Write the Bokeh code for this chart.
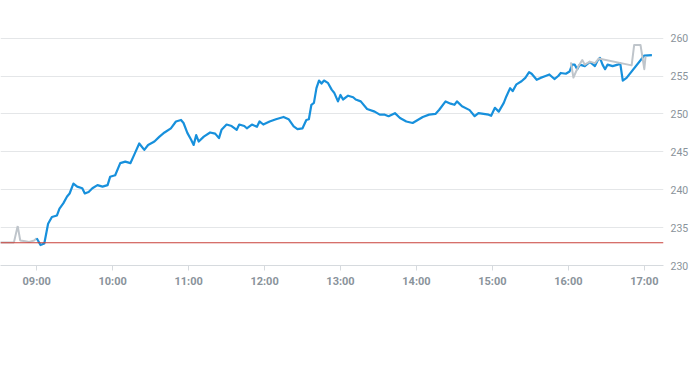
from bokeh.plotting import figure
from bokeh.models import Range1d, FixedTicker, Span, ColumnDataSource
from bokeh.embed import file_html
from bokeh.resources import INLINE

# ---- data ----
reg_times = ["09:00", "09:03", "09:06", "09:09", "09:12", "09:16", "09:18", "09:21", "09:24", "09:26",
             "09:29", "09:32", "09:36", "09:38", "09:41", "09:44", "09:48", "09:52", "09:56", "09:58",
             "10:02", "10:06", "10:10", "10:14", "10:17", "10:21", "10:25", "10:28", "10:33", "10:37",
             "10:41", "10:46", "10:50", "10:54", "10:56", "10:59", "11:02", "11:04", "11:06", "11:08",
             "11:12", "11:17", "11:21", "11:24", "11:26", "11:30", "11:34", "11:38", "11:40", "11:44",
             "11:46", "11:50", "11:54", "11:56", "11:59", "12:04", "12:09", "12:15", "12:19", "12:23",
             "12:26", "12:30", "12:33", "12:35", "12:37", "12:39", "12:41", "12:43", "12:45", "12:47",
             "12:50", "12:53", "12:55", "12:58", "13:00", "13:02", "13:06", "13:10", "13:12", "13:16",
             "13:21", "13:27", "13:31", "13:35", "13:38", "13:43", "13:47", "13:52", "13:57", "14:01",
             "14:05", "14:10", "14:15", "14:18", "14:23", "14:27", "14:30", "14:32", "14:36", "14:42",
             "14:46", "14:49", "14:53", "14:57", "14:59", "15:02", "15:05", "15:09", "15:11", "15:14",
             "15:16", "15:19", "15:23", "15:26", "15:29", "15:31", "15:35", "15:38", "15:42", "15:45",
             "15:49", "15:52", "15:54", "15:58", "16:01", "16:03", "16:05", "16:07", "16:09", "16:13",
             "16:17", "16:21", "16:23", "16:25", "16:27", "16:29", "16:31", "16:35", "16:39", "16:41",
             "16:43", "16:46", "17:00", "17:06"]
reg_prices = [233.6, 232.7, 232.9, 235.5, 236.4, 236.6, 237.5, 238.2, 239.1, 239.5,
              240.8, 240.4, 240.2, 239.5, 239.7, 240.2, 240.6, 240.4, 240.6, 241.7,
              241.9, 243.5, 243.7, 243.5, 244.6, 246.1, 245.25, 245.9, 246.35, 247.0,
              247.55, 248.1, 249.0, 249.2, 248.8, 247.5, 246.6, 245.9, 247.2, 246.35,
              247.0, 247.55, 247.4, 246.8, 247.9, 248.6, 248.4, 247.9, 248.6, 248.4,
              248.1, 248.6, 248.3, 249.0, 248.6, 249.0, 249.3, 249.6, 249.3, 248.35,
              248.0, 248.1, 249.2, 249.3, 251.2, 251.45, 253.4, 254.4, 254.0, 254.4,
              254.1, 253.2, 252.8, 251.65, 252.5, 251.9, 252.4, 252.2, 251.9, 251.65,
              250.65, 250.3, 249.9, 249.9, 249.7, 250.1, 249.45, 249.0, 248.8, 249.2,
              249.6, 249.9, 250.0, 250.55, 251.65, 251.35, 251.2, 251.65, 251.0, 250.5,
              249.7, 250.1, 250.0, 249.9, 249.75, 250.8, 250.3, 251.45, 252.3, 253.4,
              253.0, 253.9, 254.3, 254.75, 255.5, 255.3, 254.5, 254.75, 255.0, 255.2,
              254.6, 255.0, 255.4, 255.3, 255.6, 256.5, 256.5, 255.9, 256.5, 256.3,
              256.85, 256.3, 257.0, 257.4, 256.5, 255.9, 256.5, 256.3, 256.5, 256.65,
              254.4, 254.75, 257.7, 257.75]

pre_times = ["08:30", "08:42", "08:45", "08:47", "08:51", "08:54", "08:58", "09:00"]
pre_prices = [233.05, 233.05, 235.2, 233.3, 233.2, 233.1, 233.3, 233.6]

post_times = ["16:02", "16:04", "16:08", "16:11", "16:13", "16:17", "16:21", "16:24",
              "16:50", "16:52", "16:57", "17:00", "17:01"]
post_prices = [256.8, 254.8, 256.3, 257.1, 256.5, 256.9, 256.7, 257.3,
               256.4, 259.1, 259.1, 255.9, 257.6]

prev_close = 233.0
y_ticks = [230, 235, 240, 245, 250, 255, 260]
x_tick_labels = ["09:00", "10:00", "11:00", "12:00", "13:00", "14:00", "15:00", "16:00", "17:00"]


def to_min(s):
    h, m = s.split(":")
    return int(h) * 60 + int(m)


x_ticks = [to_min(t) for t in x_tick_labels]

FRAME_W, FRAME_H = 663, 265
PX_PER_MIN = 75.95 / 60
PX_PER_UNIT = 7.58
x0 = to_min("09:00") - 36.2 / PX_PER_MIN
p = figure(
    frame_width=FRAME_W, frame_height=FRAME_H,
    x_range=Range1d(x0, x0 + FRAME_W / PX_PER_MIN),
    y_range=Range1d(230, 230 + FRAME_H / PX_PER_UNIT),
    output_backend="svg", toolbar_location=None,
    y_axis_location="right",
    min_border_left=0, min_border_top=0, min_border_right=28, min_border_bottom=25,
)
p.outline_line_color = None
p.background_fill_color = "white"
p.border_fill_color = "white"

# grid
p.xgrid.grid_line_color = None
p.ygrid.grid_line_color = "#e4e6e8"
p.ygrid.grid_line_width = 1

# y axis (right)
p.yaxis.ticker = FixedTicker(ticks=y_ticks)
p.yaxis.axis_line_color = None
p.yaxis.major_tick_line_color = None
p.yaxis.minor_tick_line_color = None
p.yaxis.major_tick_out = 0
p.yaxis.major_tick_in = 0
p.yaxis.major_label_standoff = 7
p.yaxis.major_label_text_font = "Roboto"
p.yaxis.major_label_text_font_size = "10.5px"
p.yaxis.major_label_text_color = "#8a939b"

# x axis
p.xaxis.ticker = FixedTicker(ticks=x_ticks)
p.xaxis.major_label_overrides = {x: l for x, l in zip(x_ticks, x_tick_labels)}
p.xaxis.axis_line_color = "#d6dade"
p.xaxis.major_tick_line_color = "#d6dade"
p.xaxis.major_tick_in = 0
p.xaxis.major_tick_out = 5
p.xaxis.minor_tick_line_color = None
p.xaxis.major_label_standoff = 4
p.xaxis.major_label_text_font = "Roboto"
p.xaxis.major_label_text_font_size = "11px"
p.xaxis.major_label_text_font_style = "bold"
p.xaxis.major_label_text_color = "#8a939b"

# previous close
p.add_layout(Span(location=prev_close, dimension="width", line_color="#c9403a", line_width=1))

pre_src = ColumnDataSource(dict(x=[to_min(t) for t in pre_times], y=pre_prices))
reg_src = ColumnDataSource(dict(x=[to_min(t) for t in reg_times], y=reg_prices))
post_src = ColumnDataSource(dict(x=[to_min(t) for t in post_times], y=post_prices))

p.line("x", "y", source=pre_src, line_color="#bfc5cb", line_width=2)
p.line("x", "y", source=reg_src, line_color="#1790dc", line_width=2.2, line_join="round")
p.line("x", "y", source=post_src, line_color="#bfc5cb", line_width=2, line_join="round")

open("out.html", "w").write(file_html(p, INLINE))
